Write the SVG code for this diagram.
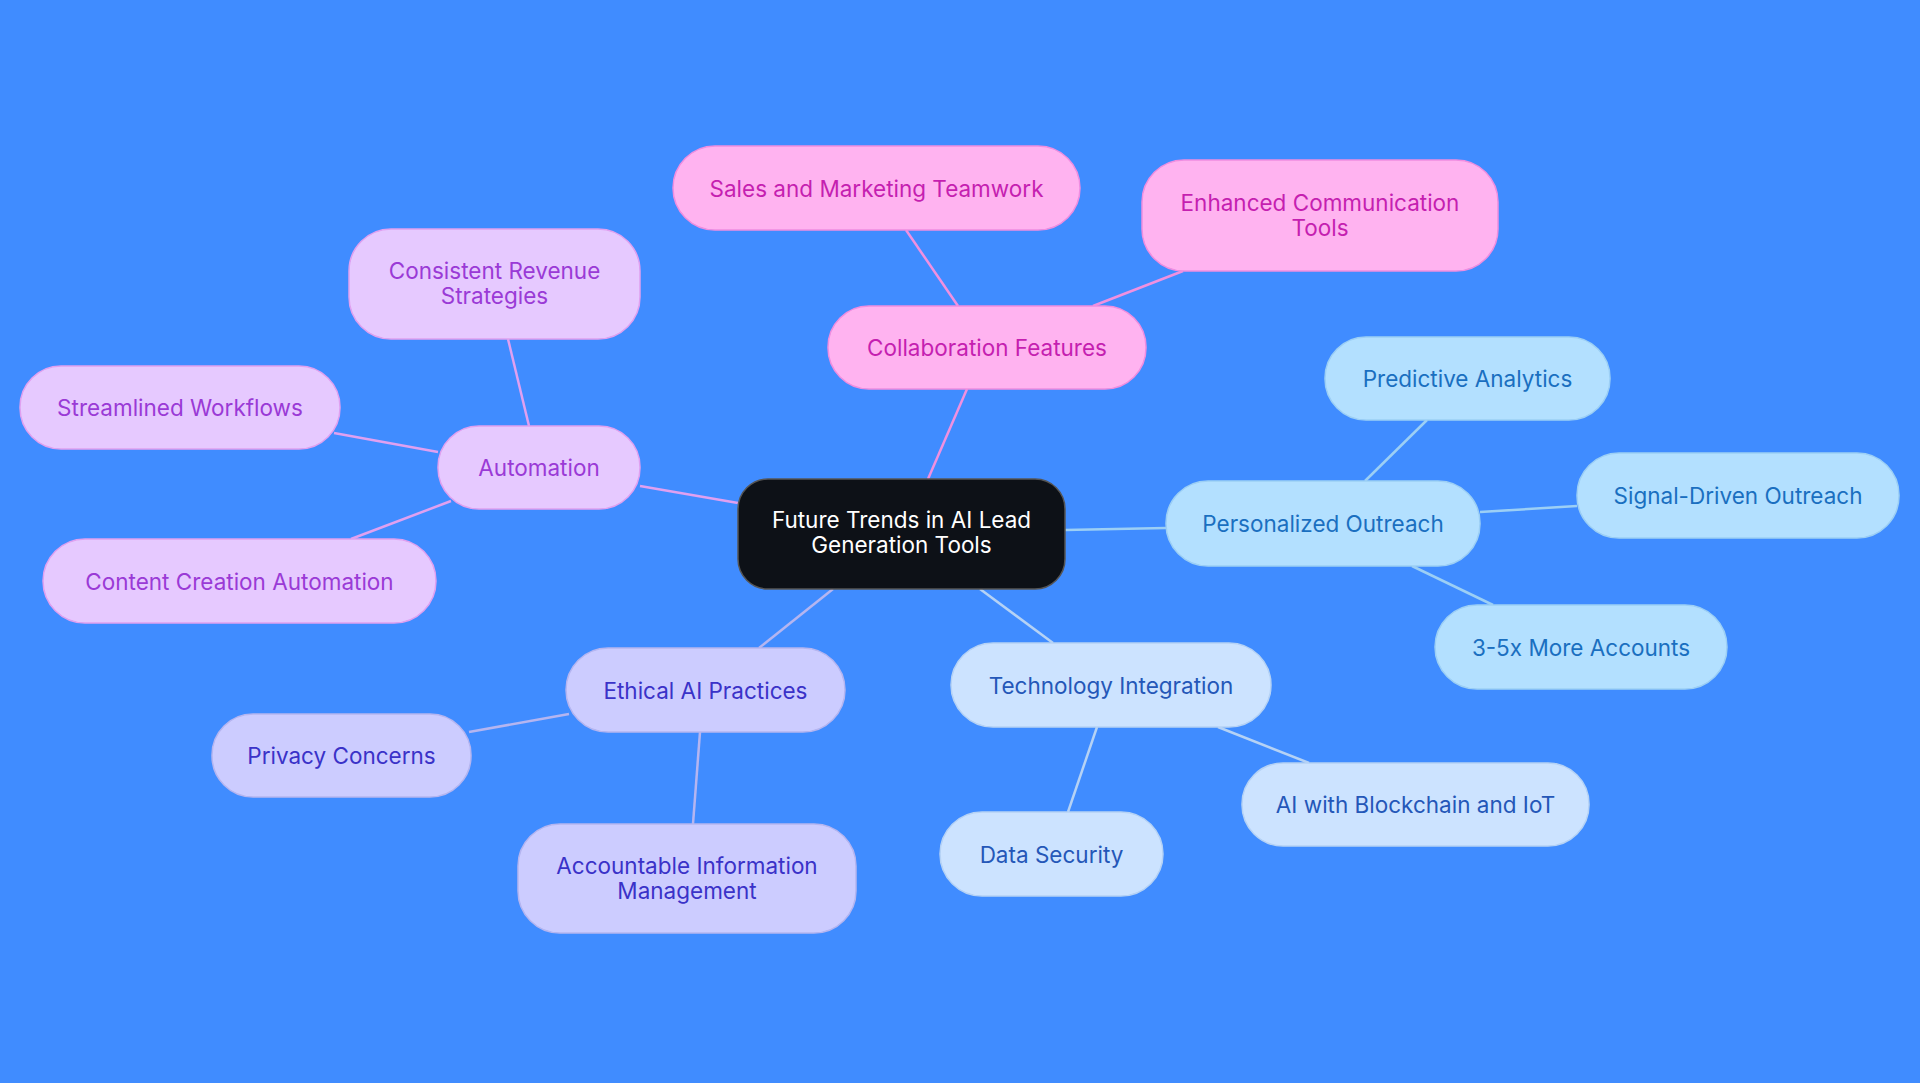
<svg xmlns="http://www.w3.org/2000/svg" width="1920" height="1083" viewBox="0 0 1920 1083">
<style>
text{font-family:Inter,"Noto Sans",sans-serif;font-size:22.5px;text-anchor:middle;dominant-baseline:central}
rect{stroke-width:1.5}
.c rect{fill:#0d1117;stroke:#555}.c text{fill:#fff}
.p rect{fill:#ffb3f0;stroke:#f08de0}.p text{fill:#c51fb0}
.a rect{fill:#e6c9ff;stroke:#e0a0f0}.a text{fill:#9a3ad6}
.b rect{fill:#b3e0ff;stroke:#9ccff5}.b text{fill:#1a6fc0}
.t rect{fill:#cce3ff;stroke:#b5d2f5}.t text{fill:#2457b8}
.e rect{fill:#ccccff;stroke:#b5b5f0}.e text{fill:#3a32c8}
line{stroke-width:2.5}
</style>
<rect width="1920" height="1083" fill="#408cff"/>
<g id="connectors">
<line x1="928" y1="479" x2="967" y2="389" stroke="#f090e0"/>
<line x1="958" y1="306" x2="906" y2="230" stroke="#f090e0"/>
<line x1="1093" y1="306" x2="1183" y2="271" stroke="#f090e0"/>
<line x1="738" y1="503" x2="640" y2="486" stroke="#e0a0f0"/>
<line x1="529" y1="426" x2="508" y2="339" stroke="#e0a0f0"/>
<line x1="438" y1="452" x2="334" y2="433" stroke="#e0a0f0"/>
<line x1="451" y1="501" x2="351" y2="539" stroke="#e0a0f0"/>
<line x1="1065" y1="530" x2="1166" y2="528" stroke="#9ccff5"/>
<line x1="1365" y1="481" x2="1427" y2="420" stroke="#9ccff5"/>
<line x1="1480" y1="512" x2="1577" y2="506" stroke="#9ccff5"/>
<line x1="1412" y1="566" x2="1493" y2="605" stroke="#9ccff5"/>
<line x1="980" y1="589" x2="1053" y2="643" stroke="#b5d2f5"/>
<line x1="1097" y1="727" x2="1068" y2="812" stroke="#b5d2f5"/>
<line x1="1218" y1="727" x2="1309" y2="763" stroke="#b5d2f5"/>
<line x1="833" y1="589" x2="759" y2="648" stroke="#b5b5f0"/>
<line x1="569" y1="714" x2="469" y2="732" stroke="#b5b5f0"/>
<line x1="700" y1="732" x2="693" y2="824" stroke="#b5b5f0"/>
</g>
<g id="center" class="c"><rect x="738" y="479" width="327" height="110" rx="30"/><text x="901.5" y="519">Future Trends in AI Lead</text><text x="901.5" y="544">Generation Tools</text></g>
<g id="collab" class="p"><rect x="828" y="306" width="318" height="83" rx="41"/><text x="987" y="347.5">Collaboration Features</text></g>
<g id="sales" class="p"><rect x="673" y="146" width="407" height="84" rx="42"/><text x="876.5" y="188">Sales and Marketing Teamwork</text></g>
<g id="enhanced" class="p"><rect x="1142" y="160" width="356" height="111" rx="42"/><text x="1320" y="202">Enhanced Communication</text><text x="1320" y="227">Tools</text></g>
<g id="automation" class="a"><rect x="438" y="426" width="202" height="83" rx="41"/><text x="539" y="467.5">Automation</text></g>
<g id="consistent" class="a"><rect x="349" y="229" width="291" height="110" rx="42"/><text x="494.5" y="270">Consistent Revenue</text><text x="494.5" y="295">Strategies</text></g>
<g id="streamlined" class="a"><rect x="20" y="366" width="320" height="83" rx="41"/><text x="180" y="407.5">Streamlined Workflows</text></g>
<g id="content" class="a"><rect x="43" y="539" width="393" height="84" rx="42"/><text x="239.5" y="581">Content Creation Automation</text></g>
<g id="personalized" class="b"><rect x="1166" y="481" width="314" height="85" rx="42"/><text x="1323" y="523.5">Personalized Outreach</text></g>
<g id="predictive" class="b"><rect x="1325" y="337" width="285" height="83" rx="41"/><text x="1467.5" y="378.5">Predictive Analytics</text></g>
<g id="signal" class="b"><rect x="1577" y="453" width="322" height="85" rx="42"/><text x="1738" y="495.5">Signal-Driven Outreach</text></g>
<g id="accounts" class="b"><rect x="1435" y="605" width="292" height="84" rx="42"/><text x="1581" y="647">3-5x More Accounts</text></g>
<g id="tech" class="t"><rect x="951" y="643" width="320" height="84" rx="42"/><text x="1111" y="685">Technology Integration</text></g>
<g id="datasec" class="t"><rect x="940" y="812" width="223" height="84" rx="42"/><text x="1051.5" y="854">Data Security</text></g>
<g id="blockchain" class="t"><rect x="1242" y="763" width="347" height="83" rx="41"/><text x="1415.5" y="804.5">AI with Blockchain and IoT</text></g>
<g id="ethical" class="e"><rect x="566" y="648" width="279" height="84" rx="42"/><text x="705.5" y="690">Ethical AI Practices</text></g>
<g id="privacy" class="e"><rect x="212" y="714" width="259" height="83" rx="41"/><text x="341.5" y="755.5">Privacy Concerns</text></g>
<g id="accountable" class="e"><rect x="518" y="824" width="338" height="109" rx="42"/><text x="687" y="865">Accountable Information</text><text x="687" y="890">Management</text></g>
</svg>
